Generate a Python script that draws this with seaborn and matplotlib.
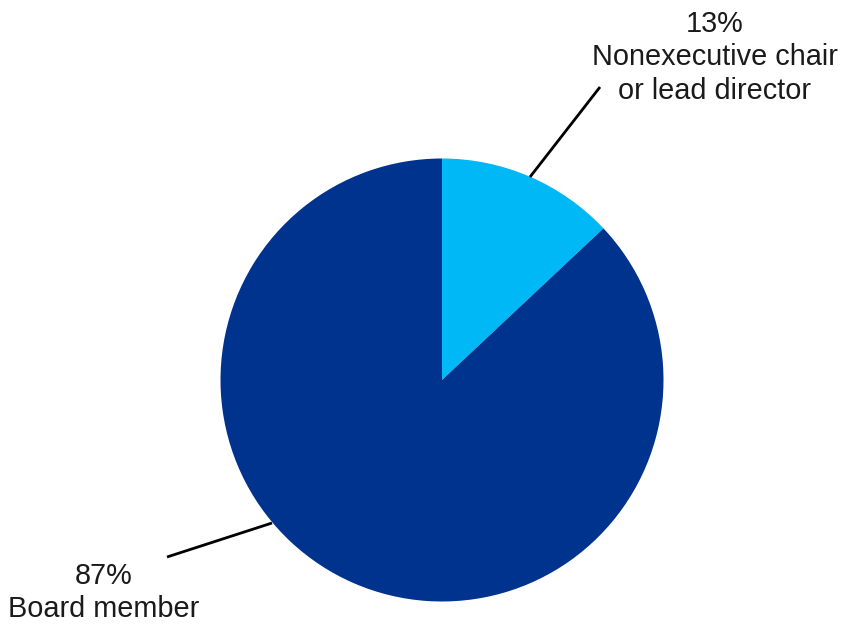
import matplotlib
matplotlib.use("Agg")
import matplotlib.pyplot as plt
import seaborn as sns

# slice data (clockwise from 12 o'clock)
labels = ["Nonexecutive chair\nor lead director", "Board member"]
shares = [13, 87]
colors = ["#00B8F5", "#00338D"]

sns.set_theme(style="white")
plt.rcParams['font.family'] = ['Liberation Sans', 'DejaVu Sans']

fig = plt.figure(figsize=(8.49, 6.25), dpi=100)
ax = fig.add_axes([0, 0, 1, 1])

ax.pie(shares, colors=colors, startangle=90, counterclock=False,
       center=(442, 245), radius=221.5,
       wedgeprops={"linewidth": 0})

ax.set_xlim(0, 849)
ax.set_ylim(0, 625)
ax.set_aspect('equal')
ax.axis('off')

# leader lines
ax.plot([530, 600], [625 - 177, 625 - 87], color="black", lw=2, solid_capstyle='butt')
ax.plot([272, 167], [625 - 523, 625 - 557], color="black", lw=2, solid_capstyle='butt')

# labels
ax.text(715, 625 - 10, f"{shares[0]}%\n{labels[0]}", ha='center', va='top',
        fontsize=20.8, linespacing=1.24, color="#1a1a1a")
ax.text(104, 625 - 562, f"{shares[1]}%\n{labels[1]}", ha='center', va='top',
        fontsize=20.8, linespacing=1.24, color="#1a1a1a")

fig.savefig("out.png", dpi=100)
